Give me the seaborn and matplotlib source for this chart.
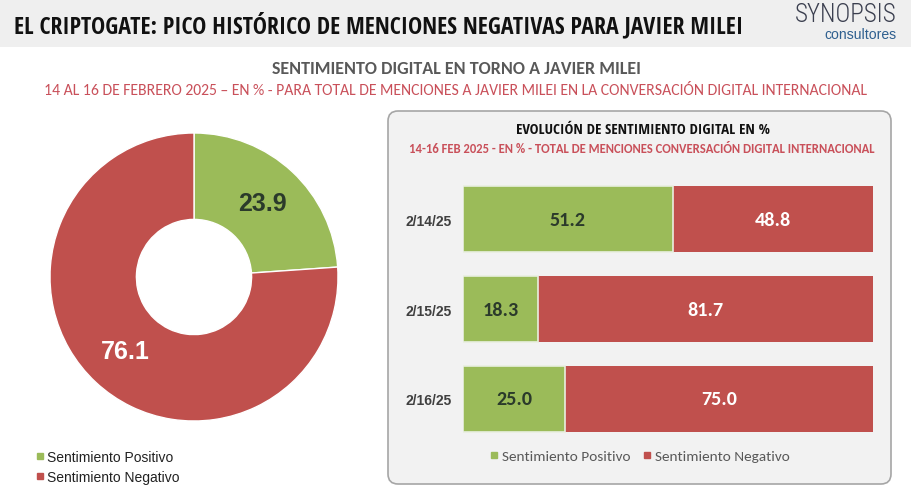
import matplotlib
matplotlib.use("Agg")
import matplotlib.pyplot as plt
import seaborn as sns
import pandas as pd
from matplotlib.patches import FancyBboxPatch, Rectangle
from matplotlib.transforms import IdentityTransform
from matplotlib.lines import Line2D

# ---------------- data ----------------
pie_labels = ["Sentimiento Positivo", "Sentimiento Negativo"]
pie_values = [23.9, 76.1]
dates = ["2/14/25", "2/15/25", "2/16/25"]
positive = [51.2, 18.3, 25.0]
negative = [48.8, 81.7, 75.0]

GREEN = "#9BBB59"
RED = "#C0504D"
CALIBRI = ["Carlito", "DejaVu Sans"]
COND = ["Open Sans Condensed", "Carlito", "DejaVu Sans"]
NARROW = ["Roboto Condensed", "DejaVu Sans"]
ARIAL = ["Liberation Sans", "DejaVu Sans"]

sns.set_theme(style="white")
plt.rcParams["font.family"] = ARIAL

W, H = 912, 489
fig = plt.figure(figsize=(W / 100, H / 100), dpi=100)
fig.patch.set_facecolor("white")


def fy(py):
    return 1 - py / H


# header band
fig.add_artist(Rectangle((0, fy(48)), 1, 48 / H, transform=fig.transFigure,
                         facecolor="#efefef", edgecolor="none", zorder=-2))

# panel
fig.add_artist(FancyBboxPatch((388, H - 485), 503, 373,
                              boxstyle="round,pad=0,rounding_size=10",
                              transform=IdentityTransform(),
                              facecolor="#f2f2f2", edgecolor="#a6a6a6",
                              linewidth=1.2, zorder=-1))

fit_items = []


def ftext(x, y, s, target_w, ha="left", **kw):
    t = fig.text(x / W, fy(y), s, ha=ha, va="baseline", **kw)
    fit_items.append((t, target_w))
    return t


ftext(14, 33, "EL CRIPTOGATE: PICO HISTÓRICO DE MENCIONES NEGATIVAS PARA JAVIER MILEI",
      731, fontsize=15, fontweight="bold", color="#111111", family=COND)
ftext(795, 22, "SYNOPSIS", 102, fontsize=14, color="#3b3f4f", fontweight=300, family=NARROW)
ftext(897, 39, "consultores", 72, ha="right", fontsize=10, color="#2e5f8f", family=ARIAL)

ftext(456, 73.5, "SENTIMIENTO DIGITAL EN TORNO A JAVIER MILEI", 367,
      ha="center", fontsize=11, fontweight="bold", color="#595959", family=CALIBRI)
ftext(456, 95, "14 AL 16 DE FEBRERO 2025 – EN % - PARA TOTAL DE MENCIONES A JAVIER MILEI EN LA CONVERSACIÓN DIGITAL INTERNACIONAL",
      828, ha="center", fontsize=10, color="#c9505a", family=CALIBRI)

ftext(643, 134, "EVOLUCIÓN DE SENTIMIENTO DIGITAL EN %", 253,
      ha="center", fontsize=10, fontweight="bold", color="#111111", family=COND)
ftext(642, 153, "14-16 FEB 2025 - EN % - TOTAL DE MENCIONES CONVERSACIÓN DIGITAL INTERNACIONAL",
      468, ha="center", fontsize=8, fontweight="bold", color="#c9505a", family=CALIBRI)

# ---------------- donut ----------------
R = 144
cx, cy = 194, 278
ax1 = fig.add_axes([(cx - R) / W, (H - cy - R) / H, 2 * R / W, 2 * R / H])
wedges, _, autotexts = ax1.pie(
    pie_values, colors=[GREEN, RED], startangle=90, counterclock=False,
    autopct="%.1f", pctdistance=0.70, radius=1,
    wedgeprops=dict(width=0.6, edgecolor="white", linewidth=1))
ax1.set_xlim(-1, 1)
ax1.set_ylim(-1, 1)
ax1.set_aspect("equal")
for t, c in zip(autotexts, ["#2b3a2b", "white"]):
    t.set_color(c)
    t.set_fontsize(18)
    t.set_fontweight("bold")
    t.set_family(ARIAL)

handles = [Line2D([], [], marker="s", linestyle="none", markersize=4.5,
                  markerfacecolor=c, markeredgecolor=c) for c in [GREEN, RED]]
ax1.legend(handles, pie_labels, loc="upper left",
           bbox_to_anchor=(31 / W, fy(445)), bbox_transform=fig.transFigure,
           frameon=False, handlelength=0.5, handletextpad=0.25,
           labelspacing=0.45, borderaxespad=0,
           prop=dict(family=ARIAL, size=10), labelcolor="#222222")

# ---------------- stacked bars ----------------
df = pd.DataFrame({"date": dates, "pos": positive, "neg": negative})
df["total"] = df["pos"] + df["neg"]

ax2 = fig.add_axes([463 / W, fy(445), 410 / W, 270 / H])
ax2.patch.set_alpha(0)
sns.barplot(data=df, x="total", y="date", color=RED, orient="h",
            width=0.73, saturation=1, ax=ax2, linewidth=0)
sns.barplot(data=df, x="pos", y="date", color=GREEN, orient="h",
            width=0.73, saturation=1, ax=ax2, edgecolor="#e9efe0", linewidth=1.2)
ax2.set_xlim(0, df["total"].max())
ax2.set_xlabel("")
ax2.set_ylabel("")
ax2.set_xticks([])
for s in ax2.spines.values():
    s.set_visible(False)
ax2.tick_params(axis="y", length=0, pad=8)
for lab in ax2.get_yticklabels():
    lab.set_fontweight("bold")
    lab.set_fontsize(10)
    lab.set_color("#404040")
    lab.set_family(ARIAL)

for i, (p, n) in enumerate(zip(df["pos"], df["neg"])):
    ax2.text(p / 2, i, f"{p:.1f}", ha="center", va="center", fontsize=14.5,
             fontweight="bold", color="#2b3a2b", family=CALIBRI)
    ax2.text(p + n / 2, i, f"{n:.1f}", ha="center", va="center", fontsize=14.5,
             fontweight="bold", color="white", family=CALIBRI)

fig.legend(handles, pie_labels, loc="center", ncol=2,
           bbox_to_anchor=(640 / W, fy(457)), frameon=False,
           handlelength=0.5, handletextpad=0.3, columnspacing=0.8,
           prop=dict(family=CALIBRI, size=11), labelcolor="#595959")

# ---------------- fit text widths ----------------
fig.canvas.draw()
r = fig.canvas.get_renderer()
for t, tw in fit_items:
    w = t.get_window_extent(r).width
    t.set_fontsize(t.get_fontsize() * tw / w)

fig.savefig("out.png", dpi=100, facecolor="white")
